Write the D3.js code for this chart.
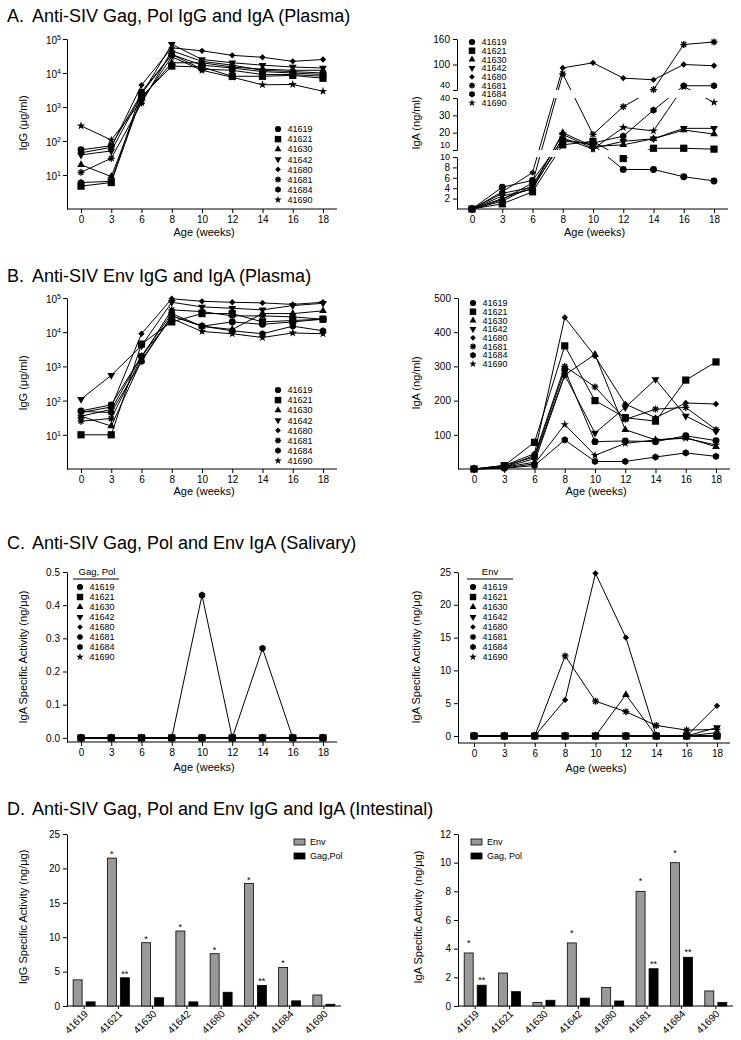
<!DOCTYPE html>
<html><head><meta charset="utf-8">
<script src="https://cdn.jsdelivr.net/npm/d3@7"></script>
<style>
body{margin:0;background:#fff}
svg{display:block}
text{font-family:"Liberation Sans",Arial,sans-serif;fill:#000}
</style>
</head><body>
<svg id="c" width="741" height="1040"></svg>
<script>
// ---------------- DATA ----------------
const weeks = [0, 3, 6, 8, 10, 12, 14, 16, 18];
const animals = ["41619","41621","41630","41642","41680","41681","41684","41690"];
const shapes = ["circle","square","triangleUp","triangleDown","diamond","asterisk","hexagon","star"];

// A. Gag,Pol IgG plasma (ug/ml), rows follow animals
const gagIgG = [
  [55, 72, 2500, 35000, 17000, 14000, 11000, 10000, 9000],
  [4.7, 6, 2000, 16000, 15000, 8000, 8000, 8500, 7000],
  [20, 9, 1800, 20000, 20000, 15000, 13000, 12000, 12000],
  [39, 51, 2300, 70000, 25000, 20000, 17000, 15000, 14000],
  [45, 65, 4400, 55000, 45000, 33000, 29000, 22000, 25000],
  [12, 31, 1300, 45000, 22000, 17000, 12000, 11000, 10000],
  [6, 6.5, 2800, 35000, 13000, 12000, 9000, 9000, 8000],
  [280, 107, 1500, 30000, 12000, 7500, 4500, 4600, 2900]
];
// A. Gag,Pol IgA plasma (ng/ml)
const gagIgA = [
  [0, 4.2, 5.5, 16, 13, 7.6, 7.6, 6.2, 5.4],
  [0, 1.0, 3.3, 13, 15, 9.7, 11, 11, 10.5],
  [0, 2.0, 4.0, 20, 12, 13, 16.5, 21.5, 19.2],
  [0, 1.5, 4.5, 19, 11, 15, 16.5, 22.5, 22.5],
  [0, 3.3, 7, 92, 104, 68, 64, 100, 97],
  [0, 1.8, 5, 78, 19, 35, 41, 147, 153],
  [0, 3.0, 4.2, 15, 14, 18, 33, 50, 50],
  [0, 2.5, 3.8, 17, 10.5, 23, 21, 48, 37.5]
];
// B. Env IgG plasma
const envIgG = [
  [50, 75, 2000, 35000, 15000, 20000, 17000, 20000, 24000],
  [10, 10, 4500, 20000, 35000, 35000, 20000, 22000, 24000],
  [35, 18, 1500, 30000, 15000, 12000, 35000, 35000, 42000],
  [110, 550, 4000, 75000, 55000, 50000, 45000, 60000, 70000],
  [45, 65, 9000, 95000, 80000, 75000, 72000, 65000, 75000],
  [25, 30, 1800, 45000, 40000, 30000, 30000, 28000, 24000],
  [48, 45, 1400, 30000, 15000, 11000, 9000, 15000, 11000],
  [35, 55, 2000, 25000, 10500, 9000, 7000, 9500, 9000]
];
// B. Env IgA plasma
const envIgA = [
  [0, 10, 35, 290, 80, 82, 80, 97, 83],
  [0, 10, 78, 360, 200, 150, 140, 260, 313],
  [0, 5, 20, 275, 335, 115, 85, 92, 65],
  [0, 5, 30, 275, 105, 180, 262, 155, 110],
  [0, 10, 45, 443, 330, 190, 150, 193, 190],
  [0, 5, 40, 300, 240, 145, 175, 180, 115],
  [0, 2, 10, 85, 22, 22, 35, 47, 37],
  [0, 3, 15, 130, 40, 75, 85, 90, 70]
];
// C. Salivary IgA specific activity
const salGagIgA = [
  [0,0,0,0,0,0,0,0,0],
  [0,0,0,0,0,0,0,0,0],
  [0,0,0,0,0,0,0,0,0],
  [0,0,0,0,0,0,0,0,0],
  [0,0,0,0,0,0,0,0,0],
  [0,0,0,0,0,0,0,0,0],
  [0,0,0,0,0.43,0,0.27,0,0],
  [0,0,0,0,0,0,0,0,0]
];
const salEnvIgA = [
  [0,0,0,0,0,0,0,0,0],
  [0,0,0,0,0,0,0,0,0],
  [0,0,0,0,0,6.3,0,0,0.5],
  [0,0,0,0,0,0,0,0,1.3],
  [0,0,0,5.5,24.8,15,0,0,4.6],
  [0,0,0,12.2,5.3,3.7,1.6,0.9,1.0],
  [0,0,0,0,0,0,0,0,0],
  [0,0,0,0,0,0,0,0,0]
];
// D. Intestinal
const intIgGEnv = [3.8, 21.5, 9.2, 10.9, 7.6, 17.8, 5.6, 1.6];
const intIgGGag = [0.6, 4.1, 1.2, 0.6, 2.0, 3.0, 0.75, 0.25];
const intIgGStarsEnv = ["", "*", "*", "*", "*", "*", "*", ""];
const intIgGStarsGag = ["", "**", "", "", "", "**", "", ""];
const intIgAEnv = [3.7, 2.3, 0.25, 4.4, 1.3, 8.0, 10.0, 1.05];
const intIgAGag = [1.45, 1.0, 0.4, 0.55, 0.35, 2.6, 3.4, 0.25];
const intIgAStarsEnv = ["*", "", "", "*", "", "*", "*", ""];
const intIgAStarsGag = ["**", "", "", "", "", "**", "**", ""];

// ---------------- DRAWING ----------------
const svg = d3.select("#c");
const FONT = '"Liberation Sans",Arial,sans-serif';
const defs = svg.append("defs");

const hexagon = {draw(ctx, size){
  const r = Math.sqrt(size / (1.5 * Math.sqrt(3)));
  for (let i = 0; i < 6; i++) {
    const a = Math.PI / 6 + i * Math.PI / 3;
    const px = r * Math.cos(a), py = r * Math.sin(a);
    if (i === 0) ctx.moveTo(px, py); else ctx.lineTo(px, py);
  }
  ctx.closePath();
}};
const aster = {draw(ctx, size){
  const r = Math.sqrt(size) / 2;
  for (let i = 0; i < 4; i++) {
    const a = i * Math.PI / 4;
    ctx.moveTo(r * Math.cos(a), r * Math.sin(a));
    ctx.lineTo(-r * Math.cos(a), -r * Math.sin(a));
  }
}};

function drawMarker(g, shape, x, y, k = 1) {
  let type, size, rot = 0, stroke = false;
  switch (shape) {
    case "circle": type = d3.symbolCircle; size = 38; break;
    case "square": type = d3.symbolSquare; size = 52; break;
    case "triangleUp": type = d3.symbolTriangle; size = 26; break;
    case "triangleDown": type = d3.symbolTriangle; size = 26; rot = 180; break;
    case "diamond": type = d3.symbolSquare; size = 20; rot = 45; break;
    case "asterisk": type = aster; size = 48; stroke = true; break;
    case "hexagon": type = hexagon; size = 34; break;
    case "star": type = d3.symbolStar; size = 22; break;
  }
  const p = g.append("path")
    .attr("d", d3.symbol().type(type).size(size * k)())
    .attr("transform", `translate(${x},${y}) rotate(${rot})`);
  if (stroke) p.attr("fill", "none").attr("stroke", "#000").attr("stroke-width", 1.3);
  else p.attr("fill", "#000");
}

function title(letter, text, y) {
  svg.append("text").attr("x", 7).attr("y", y).attr("font-size", 18).text(letter);
  svg.append("text").attr("x", 32).attr("y", y).attr("font-size", 18).text(text);
}

function styleAxis(g) {
  g.attr("font-family", FONT).attr("font-size", 10);
  g.selectAll("path,line").attr("stroke", "#000").attr("stroke-width", 1);
  return g;
}

function weekAxis(x, ay, x0, x1, labelDy) {
  const g = svg.append("g").attr("transform", `translate(0,${ay})`)
    .call(d3.axisBottom(x).tickSize(4).tickPadding(3).tickSizeOuter(0));
  g.select(".domain").remove();
  styleAxis(g);
  svg.append("line").attr("x1", x0).attr("x2", x1).attr("y1", ay).attr("y2", ay)
    .attr("stroke", "#000").attr("stroke-width", 1);
  svg.append("text").attr("x", (x0 + x1) / 2 + 2).attr("y", ay + labelDy)
    .attr("text-anchor", "middle").attr("font-size", 11).text("Age (weeks)");
}

function yLabel(text, x, y) {
  svg.append("text").attr("transform", `translate(${x},${y}) rotate(-90)`)
    .attr("text-anchor", "middle").attr("font-size", 11).text(text);
}

function logAxis(y, ax) {
  const g = svg.append("g").attr("transform", `translate(${ax},0)`)
    .call(d3.axisLeft(y).tickValues([10, 100, 1e3, 1e4, 1e5]).tickFormat("").tickSize(4).tickSizeOuter(0));
  styleAxis(g);
  g.selectAll(".tick").each(function(d) {
    const t = d3.select(this).append("text").attr("x", -6).attr("dy", "0.45em")
      .attr("text-anchor", "end").attr("font-size", 10);
    t.append("tspan").text("10");
    t.append("tspan").attr("dy", "-0.55em").attr("font-size", 7).text(Math.round(Math.log10(d)));
  });
}

function legend(x, y0, dy) {
  const g = svg.append("g");
  animals.forEach((a, i) => {
    drawMarker(g, shapes[i], x, y0 + i * dy, 0.8);
    g.append("text").attr("x", x + 9.5).attr("y", y0 + i * dy).attr("dy", "0.36em")
      .attr("font-size", 9).text(a);
  });
}

const drawOrder = [0, 2, 3, 4, 5, 6, 7, 1]; // square drawn last (on top)

function series(x, yf, data, clipIds) {
  const g = svg.append("g");
  drawOrder.forEach(si => {
    const row = data[si];
    const line = d3.line().x((d, i) => x(weeks[i])).y(d => yf(d));
    if (clipIds) {
      clipIds.forEach(cid => {
        g.append("path").attr("d", line(row)).attr("fill", "none")
          .attr("stroke", "#000").attr("stroke-width", 1).attr("clip-path", `url(#${cid})`);
      });
    } else {
      g.append("path").attr("d", line(row)).attr("fill", "none")
        .attr("stroke", "#000").attr("stroke-width", 1);
    }
    row.forEach((v, i) => drawMarker(g, shapes[si], x(weeks[i]), yf(v)));
  });
}

// ===== Panel A =====
title("A.", "Anti-SIV Gag, Pol IgG and IgA (Plasma)", 22);

// A left: log IgG
{
  const x = d3.scalePoint().domain(weeks).range([81, 323]);
  const y = d3.scaleLog().domain([1, 1e5]).range([209, 39]);
  logAxis(y, 67);
  weekAxis(x, 209, 67, 337, 27);
  yLabel("IgG (\u03bcg/ml)", 27, 123);
  series(x, y, gagIgG);
  legend(278, 129, 10.1);
}

// A right: broken-axis IgA
{
  const x = d3.scalePoint().domain(weeks).range([472, 714]);
  const yB = d3.scaleLinear().domain([0, 10]).range([209, 157]);
  const yM = d3.scaleLinear().domain([10, 40]).range([150, 98]);
  const yT = d3.scaleLinear().domain([40, 160]).range([90, 39]);
  const yf = v => v <= 10 ? yB(v) : (v <= 40 ? yM(v) : yT(v));
  [[yB, [2, 4, 6, 8, 10], "bot"], [yM, [10, 20, 30, 40], "mid"], [yT, [40, 100, 160], "top"]].forEach(([s, tv, seg]) => {
    const g = svg.append("g").attr("transform", "translate(457,0)")
      .call(d3.axisLeft(s).tickValues(tv).tickSize(4).tickPadding(3).tickSizeOuter(0));
    styleAxis(g);
    // nudge the upper label of each break pair upward so the pair does not collide
    g.selectAll(".tick text").each(function(d) {
      const t = d3.select(this);
      if (seg === "bot" && d === 10) t.attr("font-size", 9);
      if (seg === "mid" && d === 10) t.attr("dy", "-0.25em").attr("font-size", 9);
      if (seg === "mid" && d === 40) t.attr("font-size", 9);
      if (seg === "top" && d === 40) t.attr("dy", "-0.25em").attr("font-size", 9);
    });
  });
  [["clipAB", 157, 215], ["clipAM", 98, 150], ["clipAT", 30, 90]].forEach(([id, y0, y1]) => {
    defs.append("clipPath").attr("id", id).append("rect")
      .attr("x", 457).attr("y", y0).attr("width", 280).attr("height", y1 - y0);
  });
  weekAxis(x, 209, 457, 728, 27);
  yLabel("IgA (ng/ml)", 420, 123);
  series(x, yf, gagIgA, ["clipAB", "clipAM", "clipAT"]);
  legend(472, 42, 8.7);
}

// ===== Panel B =====
title("B.", "Anti-SIV Env IgG and IgA (Plasma)", 282);
{
  const x = d3.scalePoint().domain(weeks).range([81, 323]);
  const y = d3.scaleLog().domain([1, 1e5]).range([469, 298]);
  logAxis(y, 67);
  weekAxis(x, 469, 67, 337, 26);
  yLabel("IgG (\u03bcg/ml)", 27, 383);
  series(x, y, envIgG);
  legend(278, 390, 10.1);
}
{
  const x = d3.scalePoint().domain(weeks).range([474, 716]);
  const y = d3.scaleLinear().domain([0, 500]).range([469, 298]);
  const g = svg.append("g").attr("transform", "translate(458,0)")
    .call(d3.axisLeft(y).tickValues([100, 200, 300, 400, 500]).tickSize(4).tickPadding(3).tickSizeOuter(0));
  styleAxis(g);
  weekAxis(x, 469, 458, 730, 26);
  yLabel("IgA (ng/ml)", 420, 383);
  series(x, y, envIgA);
  legend(473, 303, 8.7);
}

// ===== Panel C =====
title("C.", "Anti-SIV Gag, Pol and Env IgA (Salivary)", 549);
function cLegend(x, y0, dy, header, hx, ux0, ux1) {
  svg.append("text").attr("x", hx).attr("y", 575).attr("text-anchor", "middle").attr("font-size", 9.5).text(header);
  svg.append("line").attr("x1", ux0).attr("x2", ux1).attr("y1", 579).attr("y2", 579)
    .attr("stroke", "#000").attr("stroke-width", 1.2);
  legend(x, y0, dy);
}
{
  const x = d3.scalePoint().domain(weeks).range([81, 323]);
  const y = d3.scaleLinear().domain([-0.0125, 0.5]).range([742, 572]);
  const g = svg.append("g").attr("transform", "translate(67,0)")
    .call(d3.axisLeft(y).tickValues([0, 0.1, 0.2, 0.3, 0.4, 0.5]).tickFormat(d3.format(".1f")).tickSize(4).tickPadding(3).tickSizeOuter(0));
  styleAxis(g);
  weekAxis(x, 742, 67, 337, 29);
  yLabel("IgA Specific Activity (ng/\u03bcg)", 27, 657);
  series(x, y, salGagIgA);
  cLegend(80, 587, 10, "Gag, Pol", 97, 73, 119);
}
{
  const x = d3.scalePoint().domain(weeks).range([474, 717]);
  const y = d3.scaleLinear().domain([-1.07, 25]).range([743, 572]);
  const g = svg.append("g").attr("transform", "translate(458,0)")
    .call(d3.axisLeft(y).tickValues([0, 5, 10, 15, 20, 25]).tickSize(4).tickPadding(3).tickSizeOuter(0));
  styleAxis(g);
  weekAxis(x, 743, 458, 730, 29);
  yLabel("IgA Specific Activity (ng/\u03bcg)", 420, 657);
  series(x, y, salEnvIgA);
  cLegend(473, 587, 10, "Env", 490, 467, 513);
}

// ===== Panel D =====
title("D.", "Anti-SIV Gag, Pol and Env IgG and IgA (Intestinal)", 815);
function barPanel(ax, axEnd, ymax, step, env, gag, starsEnv, starsGag, label, lx, legendX, legendNames, envStarOff, gagStarOff) {
  const x = d3.scaleBand().domain(animals).range([ax, axEnd]);
  const y = d3.scaleLinear().domain([0, ymax]).range([1006, 834]);
  const g = svg.append("g").attr("transform", `translate(${ax},0)`)
    .call(d3.axisLeft(y).tickValues(d3.range(0, ymax + 0.001, step)).tickSize(4).tickPadding(3).tickSizeOuter(0));
  styleAxis(g);
  const xa = svg.append("g").attr("transform", "translate(0,1006)")
    .call(d3.axisBottom(x).tickSize(3).tickFormat("").tickSizeOuter(0));
  xa.select(".domain").remove();
  styleAxis(xa);
  svg.append("line").attr("x1", ax).attr("x2", axEnd).attr("y1", 1006).attr("y2", 1006).attr("stroke", "#000");
  const bars = svg.append("g");
  animals.forEach((a, i) => {
    const c = x(a) + x.bandwidth() / 2;
    bars.append("rect").attr("x", c - 11).attr("width", 9).attr("y", y(env[i])).attr("height", y(0) - y(env[i]))
      .attr("fill", "#999").attr("stroke", "#000").attr("stroke-width", 0.8);
    bars.append("rect").attr("x", c + 2).attr("width", 9).attr("y", y(gag[i])).attr("height", y(0) - y(gag[i]))
      .attr("fill", "#000").attr("stroke", "#000").attr("stroke-width", 0.8);
    if (starsEnv[i]) bars.append("text").attr("x", c - 6.5).attr("y", y(env[i]) - envStarOff).attr("text-anchor", "middle").attr("font-size", 9).text(starsEnv[i]);
    if (starsGag[i]) bars.append("text").attr("x", c + 6.5).attr("y", y(gag[i]) - gagStarOff).attr("text-anchor", "middle").attr("font-size", 9).text(starsGag[i]);
    svg.append("text").attr("transform", `translate(${c + 2},${1012}) rotate(-45)`)
      .attr("text-anchor", "end").attr("dy", "0.35em").attr("font-size", 10).text(a);
  });
  yLabel(label, lx, 917);
  const lg = svg.append("g");
  legendNames.forEach((n, i) => {
    lg.append("rect").attr("x", legendX).attr("y", 839 + i * 14).attr("width", 11).attr("height", 6)
      .attr("fill", i === 0 ? "#999" : "#000").attr("stroke", "#000").attr("stroke-width", 0.8);
    lg.append("text").attr("x", legendX + 16).attr("y", 842 + i * 14).attr("dy", "0.35em").attr("font-size", 9).text(n);
  });
}
barPanel(67, 341, 25, 5, intIgGEnv, intIgGGag, intIgGStarsEnv, intIgGStarsGag,
  "IgG Specific Activity (ng/\u03bcg)", 27, 294, ["Env", "Gag,Pol"], 1, 1);
barPanel(458, 733, 12, 2, intIgAEnv, intIgAGag, intIgAStarsEnv, intIgAStarsGag,
  "IgA Specific Activity (ng/\u03bcg)", 422, 471, ["Env", "Gag, Pol"], 7, 2);
</script>
</body></html>
